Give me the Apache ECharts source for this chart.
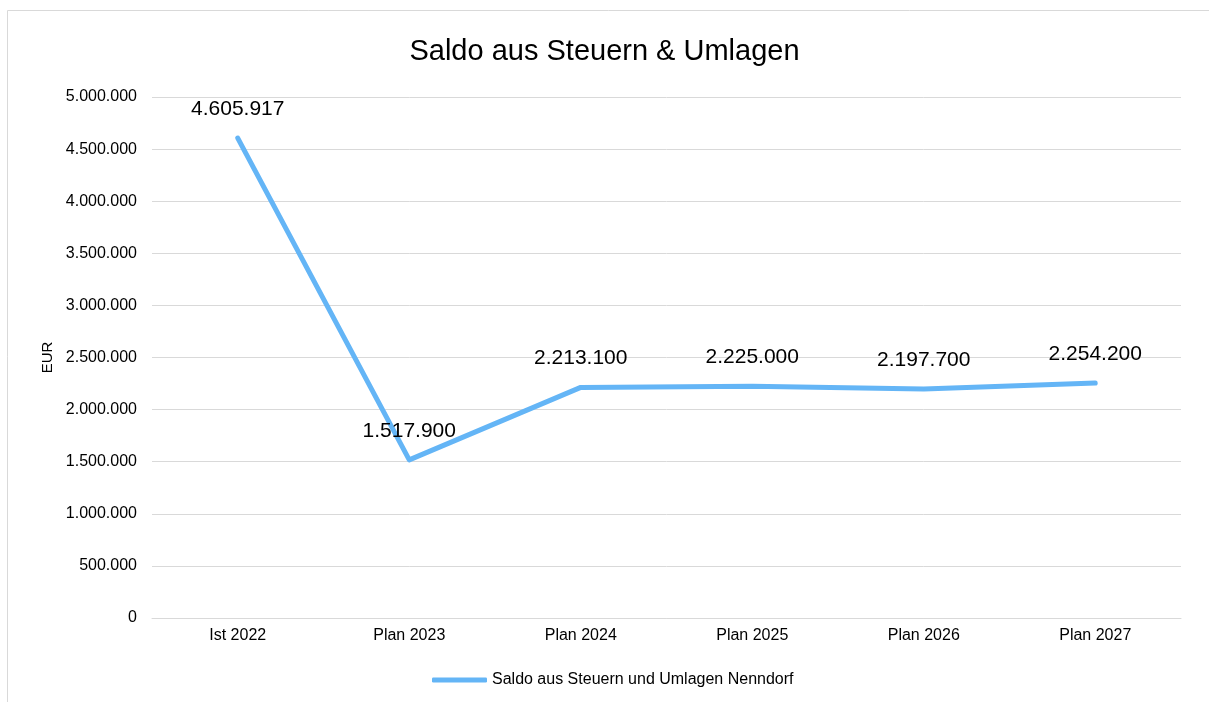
<!DOCTYPE html>
<html>
<head>
<meta charset="utf-8">
<title>Saldo aus Steuern & Umlagen</title>
<script src="https://cdn.jsdelivr.net/npm/echarts@6/dist/echarts.min.js"></script>
<style>
	html, body {
		margin: 0;
		padding: 0;
		background: #ffffff;
	}
	#chartBox {
		width: 1209px;
		height: 702px;
	}
</style>
</head>
<body>
<div id="chartBox"></div>
<script>
// Daten
const categories = ['Ist 2022', 'Plan 2023', 'Plan 2024', 'Plan 2025', 'Plan 2026', 'Plan 2027'];
const saldoValues = [4605917, 1517900, 2213100, 2225000, 2197700, 2254200];
const seriesName = 'Saldo aus Steuern und Umlagen Nenndorf';
const yTicks = { min: 0, max: 5000000, interval: 500000 };

// 4605917 -> 4.605.917
function formatDe(value) {
	return String(Math.round(value)).replace(/\B(?=(\d{3})+(?!\d))/g, '.');
}

const fontName = '"Liberation Sans", Arial, sans-serif';

let myChart = echarts.init(document.getElementById('chartBox'));

let option = {
	animation: false,
	textStyle: {
		fontFamily: fontName
	},
	title: {
		text: 'Saldo aus Steuern & Umlagen',
		left: 'center',
		top: 32,
		textStyle: {
			fontSize: 29,
			fontWeight: 'normal',
			color: '#000000',
			fontFamily: fontName
		}
	},
	// Rahmen des Diagrammbereichs (rechts/unten abgeschnitten)
	graphic: [
		{
			type: 'rect',
			shape: { x: 7.5, y: 10.5, width: 1400, height: 900 },
			style: { fill: 'none', stroke: '#d9d9d9', lineWidth: 1 },
			silent: true
		}
	],
	legend: {
		bottom: 9,
		left: 427,
		icon: 'roundRect',
		itemWidth: 55,
		itemHeight: 5,
		textStyle: {
			fontSize: 16,
			color: '#000000'
		},
		data: [seriesName]
	},
	grid: {
		left: 152,
		right: 28,
		top: 97,
		bottom: 84,
		containLabel: false
	},
	xAxis: {
		type: 'category',
		boundaryGap: true,
		data: categories,
		axisLine: {
			show: true,
			lineStyle: { color: '#d9d9d9', width: 1 }
		},
		axisTick: { show: false },
		axisLabel: {
			fontSize: 16,
			color: '#000000',
			margin: 10
		}
	},
	yAxis: {
		type: 'value',
		min: yTicks.min,
		max: yTicks.max,
		interval: yTicks.interval,
		name: 'EUR',
		nameLocation: 'middle',
		nameGap: 94,
		nameRotate: 90,
		nameTextStyle: {
			fontSize: 15,
			color: '#000000'
		},
		axisLine: { show: false },
		axisTick: { show: false },
		splitLine: {
			show: true,
			lineStyle: { color: '#d9d9d9', width: 1 }
		},
		axisLabel: {
			fontSize: 16,
			color: '#000000',
			margin: 15,
			formatter: function(value) {
				return formatDe(value);
			}
		}
	},
	series: [
		{
			name: seriesName,
			type: 'line',
			data: saldoValues,
			symbol: 'circle',
			symbolSize: 1,
			color: '#64b5f6',
			lineStyle: {
				width: 5,
				color: '#64b5f6',
				cap: 'round',
				join: 'round'
			},
			label: {
				show: true,
				position: 'top',
				distance: 18,
				fontSize: 21,
				color: '#000000',
				formatter: function(p) {
					return formatDe(p.value);
				}
			}
		}
	]
};

myChart.setOption(option);
</script>
</body>
</html>
